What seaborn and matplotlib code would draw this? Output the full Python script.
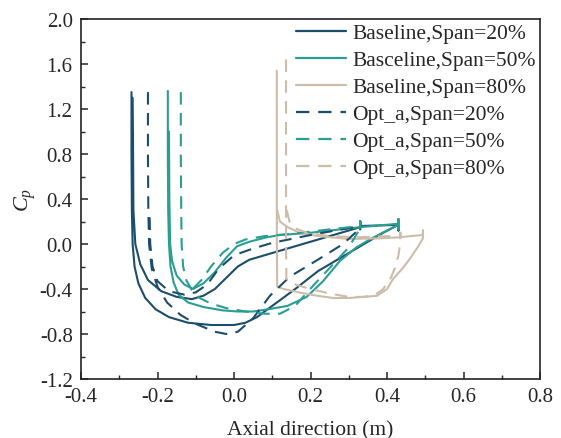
import matplotlib
matplotlib.use("Agg")
import matplotlib.pyplot as plt
import seaborn as sns
import pandas as pd
from matplotlib.ticker import AutoMinorLocator

# ---------------- data ----------------
labels = ["Baseline,Span=20%", "Basceline,Span=50%", "Baseline,Span=80%",
          "Opt_a,Span=20%", "Opt_a,Span=50%", "Opt_a,Span=80%"]

b20_x = [-0.268, -0.268, -0.267, -0.265, -0.260, -0.250, -0.232, -0.205, -0.170, -0.120, -0.060, 0.000, 0.030,
         0.060, 0.100, 0.160, 0.220, 0.280, 0.340, 0.390, 0.430, 0.430, 0.430, 0.430,
         0.330, 0.330, 0.330, 0.250, 0.150, 0.080, 0.040, 0.010, -0.020, -0.050, -0.080, -0.110, -0.150, -0.190,
         -0.225, -0.245, -0.258, -0.263, -0.264, -0.265]
b20_y = [1.35, 0.80, 0.30, 0.00, -0.20, -0.35, -0.48, -0.58, -0.65, -0.70, -0.72, -0.72, -0.70,
         -0.65, -0.55, -0.40, -0.24, -0.12, 0.00, 0.10, 0.17, 0.12, 0.22, 0.17,
         0.16, 0.20, 0.15, 0.07, -0.03, -0.10, -0.14, -0.20, -0.30, -0.40, -0.46, -0.49, -0.47, -0.42,
         -0.32, -0.18, 0.00, 0.30, 0.90, 1.30]

b50_x = [-0.173, -0.173, -0.172, -0.170, -0.166, -0.158, -0.145, -0.120, -0.080, -0.030, 0.010, 0.050, 0.090,
         0.140, 0.190, 0.233, 0.277, 0.320, 0.360, 0.400, 0.430, 0.430, 0.430, 0.430,
         0.330, 0.200, 0.120, 0.086, 0.040, 0.008, -0.020, -0.050, -0.080, -0.107, -0.130, -0.150, -0.162,
         -0.167, -0.169, -0.170]
b50_y = [1.36, 0.80, 0.30, 0.00, -0.20, -0.34, -0.45, -0.52, -0.56, -0.59, -0.60, -0.60, -0.58,
         -0.55, -0.47, -0.33, -0.15, -0.03, 0.05, 0.12, 0.17, 0.13, 0.22, 0.18,
         0.15, 0.10, 0.08, 0.06, 0.02, -0.02, -0.12, -0.25, -0.35, -0.40, -0.36, -0.28, -0.15,
         0.00, 0.40, 1.00]

b80_x = [0.112, 0.112, 0.112, 0.112, 0.113, 0.130, 0.170, 0.217, 0.260, 0.300, 0.340, 0.374, 0.400, 0.416,
         0.440, 0.460, 0.480, 0.494, 0.494, 0.494,
         0.460, 0.434, 0.380, 0.300, 0.220, 0.172, 0.140, 0.120, 0.113]
b80_y = [1.54, 1.00, 0.50, 0.00, -0.38, -0.40, -0.43, -0.46, -0.48, -0.48, -0.47, -0.46, -0.40, -0.31,
         -0.22, -0.13, -0.03, 0.05, 0.12, 0.08,
         0.07, 0.06, 0.05, 0.045, 0.07, 0.10, 0.15, 0.20, 0.30]

o20_x = [-0.225, -0.225, -0.224, -0.222, -0.215, -0.200, -0.175, -0.140, -0.100, -0.050, -0.020, 0.010, 0.050,
         0.094, 0.146, 0.190, 0.243, 0.285, 0.330, 0.330, 0.330, 0.330,
         0.200, 0.100, 0.050, 0.000, -0.040, -0.070, -0.100, -0.130, -0.170, -0.200, -0.213, -0.219, -0.221]
o20_y = [1.35, 0.80, 0.30, 0.00, -0.22, -0.38, -0.52, -0.63, -0.71, -0.78, -0.80, -0.78, -0.66,
         -0.46, -0.29, -0.20, -0.09, 0.00, 0.14, 0.12, 0.20, 0.16,
         0.08, 0.01, -0.04, -0.10, -0.22, -0.36, -0.43, -0.45, -0.42, -0.33, -0.20, 0.00, 0.30]

o50_x = [-0.139, -0.139, -0.138, -0.137, -0.133, -0.125, -0.110, -0.090, -0.060, -0.020, 0.030, 0.080, 0.120,
         0.160, 0.207, 0.240, 0.270, 0.300, 0.330, 0.330, 0.330, 0.330,
         0.250, 0.150, 0.080, 0.030, 0.000, -0.030, -0.060, -0.085, -0.108]
o50_y = [1.35, 0.80, 0.30, 0.00, -0.20, -0.32, -0.41, -0.48, -0.53, -0.57, -0.60, -0.62, -0.62,
         -0.55, -0.37, -0.25, -0.14, -0.03, 0.14, 0.12, 0.20, 0.16,
         0.13, 0.09, 0.07, 0.04, 0.00, -0.08, -0.20, -0.32, -0.40]

o80_x = [0.136, 0.136, 0.136, 0.136, 0.137, 0.160, 0.200, 0.250, 0.300, 0.340, 0.370, 0.390, 0.410, 0.420,
         0.430, 0.435, 0.435, 0.435,
         0.400, 0.330, 0.250, 0.190, 0.160, 0.145, 0.138]
o80_y = [1.64, 1.00, 0.50, 0.00, -0.31, -0.36, -0.40, -0.44, -0.47, -0.47, -0.45, -0.40, -0.30, -0.22,
         -0.10, 0.02, 0.10, 0.06,
         0.07, 0.06, 0.07, 0.10, 0.14, 0.20, 0.30]

xs = [b20_x, b50_x, b80_x, o20_x, o50_x, o80_x]
ys = [b20_y, b50_y, b80_y, o20_y, o50_y, o80_y]

colors = ["#1c4d6d", "#2b9e93", "#cdbda8", "#1c4d6d", "#2b9e93", "#cdbda8"]
solid = [True, True, True, False, False, False]

x_ticks = [-0.4, -0.2, 0.0, 0.2, 0.4, 0.6, 0.8]
y_ticks = [-1.2, -0.8, -0.4, 0.0, 0.4, 0.8, 1.2, 1.6, 2.0]

# ---------------- build table ----------------
rows = []
for lab, xx, yy in zip(labels, xs, ys):
    for i, (a, b) in enumerate(zip(xx, yy)):
        rows.append({"series": lab, "order": i, "x": a, "y": b})
df = pd.DataFrame(rows)

sns.set_style("ticks")
plt.rcParams["font.family"] = ["Liberation Serif", "DejaVu Serif"]
plt.rcParams["mathtext.fontset"] = "custom"
plt.rcParams["mathtext.rm"] = "Liberation Serif"
plt.rcParams["mathtext.it"] = "Liberation Serif:italic"

fig = plt.figure(figsize=(5.61, 4.39), dpi=100)
ax = fig.add_axes([81 / 561, 1 - 380 / 439, (540 - 81) / 561, (380 - 20) / 439])

palette = dict(zip(labels, colors))
dashes = {lab: ("" if s else (6, 4)) for lab, s in zip(labels, solid)}

sns.lineplot(data=df, x="x", y="y", hue="series", style="series",
             hue_order=labels, style_order=labels, palette=palette, dashes=dashes,
             sort=False, estimator=None, linewidth=1.5, ax=ax)

ax.set_xlim(-0.4, 0.8)
ax.set_ylim(-1.2, 2.0)
ax.set_xticks(x_ticks)
ax.set_yticks(y_ticks)
ax.set_xticklabels([f"{t:.1f}" for t in x_ticks])
ax.set_yticklabels([f"{t:.1f}" for t in y_ticks])
ax.xaxis.set_minor_locator(AutoMinorLocator(2))
ax.yaxis.set_minor_locator(AutoMinorLocator(2))
ax.tick_params(which="major", direction="in", length=5, width=1.1, labelsize=15,
               top=False, right=False)
ax.tick_params(axis="x", which="major", pad=6)
ax.tick_params(axis="y", which="major", pad=6)
ax.tick_params(which="minor", direction="in", length=3, width=1.0, top=False, right=False)
for sp in ax.spines.values():
    sp.set_linewidth(1.2)
    sp.set_color("#222222")

ax.set_xlabel("Axial direction (m)", fontsize=15.5, labelpad=10)
ax.set_ylabel(r"$C_p$", fontsize=16, labelpad=1)

leg = ax.legend(loc="upper right", bbox_to_anchor=(1.0, 1.0), frameon=False,
                fontsize=15.5, handlelength=2.3, handletextpad=0.3,
                labelspacing=0.32, borderaxespad=0.0, borderpad=0.2)
for line in leg.get_lines():
    line.set_linewidth(1.6)

fig.savefig("out.png", dpi=100)
